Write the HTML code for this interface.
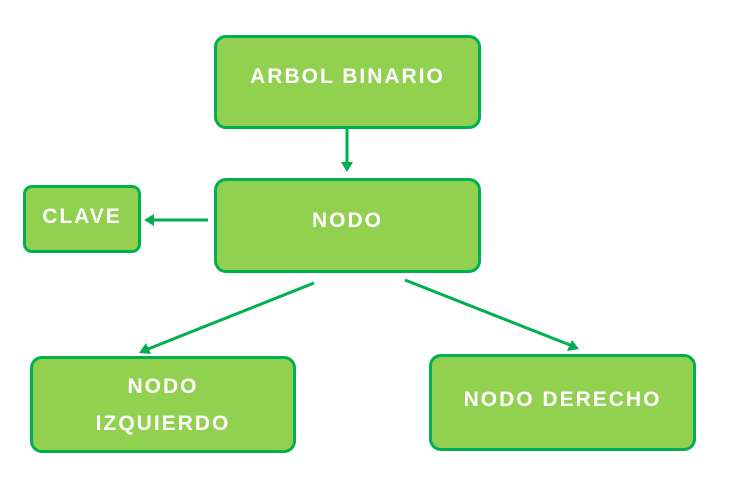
<!DOCTYPE html>
<html><head><style>
body{margin:0;width:729px;height:493px;background:#fff;position:relative;overflow:hidden;font-family:"Liberation Sans",sans-serif}
.b{position:absolute;box-sizing:border-box;background:#92d050;border:3px solid #00b050;border-radius:12px;color:#fff;font-weight:bold;font-size:21px;letter-spacing:2px;text-align:center}
.t{position:absolute;left:0;right:0;line-height:24px}
</style></head><body>
<div class="b" style="left:214px;top:35px;width:267px;height:94px"><div class="t" style="top:27px">ARBOL BINARIO</div></div>
<div class="b" style="left:214px;top:178px;width:267px;height:95px"><div class="t" style="top:28px">NODO</div></div>
<div class="b" style="left:23px;top:185px;width:118px;height:68px;border-radius:9px"><div class="t" style="top:17px">CLAVE</div></div>
<div class="b" style="left:30px;top:356px;width:266px;height:97px"><div class="t" style="top:16px">NODO</div><div class="t" style="top:53px">IZQUIERDO</div></div>
<div class="b" style="left:429px;top:354px;width:267px;height:97px"><div class="t" style="top:31px">NODO DERECHO</div></div>
<svg width="729" height="493" style="position:absolute;left:0;top:0">
<g stroke="#00b050" stroke-width="3" fill="#00b050">
<line x1="347" y1="129" x2="347" y2="164"/><polygon points="341,162 353,162 347,172" stroke="none"/>
<line x1="208" y1="220" x2="152" y2="220"/><polygon points="154,214 154,226 144,220" stroke="none"/>
<line x1="314" y1="283" x2="148" y2="349"/><polygon points="146,343 151,354 139,353" stroke="none"/>
<line x1="405" y1="280" x2="570" y2="345"/><polygon points="567,351 572,340 579,349" stroke="none"/>
</g></svg>
</body></html>
